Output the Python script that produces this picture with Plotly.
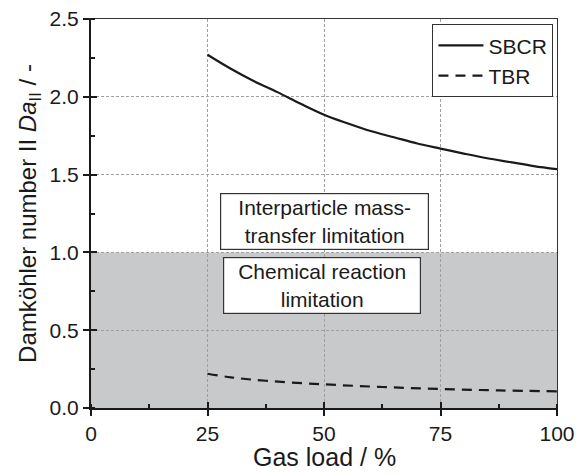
import plotly.graph_objects as go

# Gas load (%) and second Damköhler number for both reactor types
gas_load_sbcr = [25, 30, 35, 40, 45, 50, 55, 60, 65, 70, 75, 80, 85, 90, 95, 100]
da_sbcr = [2.27, 2.18, 2.10, 2.03, 1.955, 1.885, 1.83, 1.78, 1.74, 1.70, 1.667,
           1.635, 1.605, 1.58, 1.555, 1.535]

gas_load_tbr = [25, 30, 37.5, 50, 62.5, 75, 87.5, 100]
da_tbr = [0.22, 0.197, 0.175, 0.152, 0.135, 0.122, 0.113, 0.107]

# Regime boundary: Da_II < 1 -> chemical reaction limitation
da_threshold = 1.0
x_range = [0, 100]
y_range = [0, 2.5]

x_ticks = [0, 25, 50, 75, 100]
y_ticks = [0.0, 0.5, 1.0, 1.5, 2.0, 2.5]
y_tick_text = ["0.0", "0.5", "1.0", "1.5", "2.0", "2.5"]

FONT = "Liberation Sans, Arial, sans-serif"
INK = "#1a1a1a"
GRID = "#a0a0a0"

fig = go.Figure()

fig.add_trace(go.Scatter(
    x=gas_load_sbcr, y=da_sbcr, mode="lines", name="SBCR",
    line=dict(color=INK, width=2.2), line_shape="spline",
))
fig.add_trace(go.Scatter(
    x=gas_load_tbr, y=da_tbr, mode="lines", name="TBR",
    line=dict(color=INK, width=2.2, dash="10px,7px"), line_shape="spline",
))

# shaded reaction-limited regime
fig.add_shape(type="rect", xref="x", yref="y",
              x0=x_range[0], x1=x_range[1], y0=0, y1=da_threshold,
              fillcolor="#c8c9cb", line=dict(width=0), layer="below")

common_axis = dict(
    showline=True, linecolor=INK, linewidth=2,
    ticks="outside", ticklen=6, tickwidth=2, tickcolor=INK,
    showgrid=True, gridcolor=GRID, griddash="3px,2px", gridwidth=1,
    zeroline=False, automargin=False,
    tickfont=dict(family=FONT, size=21, color=INK),
)

fig.update_layout(
    width=576, height=474,
    margin=dict(l=91, r=19, t=19, b=66),
    plot_bgcolor="white", paper_bgcolor="white",
    font=dict(family=FONT, color=INK),
    xaxis=dict(
        range=x_range, tickvals=x_ticks, **common_axis,
        minor=dict(ticks="inside", ticklen=4, tickwidth=1.5, tickcolor=INK,
                   dtick=12.5, showgrid=False),
    ),
    yaxis=dict(
        range=y_range, tickvals=y_ticks, ticktext=y_tick_text, **common_axis,
        minor=dict(ticks="inside", ticklen=4, tickwidth=1.5, tickcolor=INK,
                   dtick=0.25, showgrid=False),
        title=dict(text="Damköhler number II <i>Da</i><sub>II</sub> / -",
                   font=dict(family=FONT, size=24), standoff=6),
    ),
    # thin frame on top and right
    xaxis2=dict(overlaying="x", matches="x", side="top", showline=True,
                linecolor="#333333", linewidth=1.2, showgrid=False,
                showticklabels=False, ticks="", zeroline=False, automargin=False),
    yaxis2=dict(overlaying="y", matches="y", side="right", showline=True,
                linecolor="#333333", linewidth=1.2, showgrid=False,
                showticklabels=False, ticks="", zeroline=False, automargin=False),
    # inner halves of the major ticks
    xaxis3=dict(overlaying="x", matches="x", side="bottom", showline=False,
                tickvals=x_ticks, ticks="inside", ticklen=6, tickwidth=2,
                tickcolor=INK, showticklabels=False, showgrid=False,
                zeroline=False, automargin=False),
    yaxis3=dict(overlaying="y", matches="y", side="left", showline=False,
                tickvals=y_ticks, ticks="inside", ticklen=6, tickwidth=2,
                tickcolor=INK, showticklabels=False, showgrid=False,
                zeroline=False, automargin=False),
    legend=dict(
        x=0.992, y=0.987, xanchor="right", yanchor="top",
        bgcolor="white", bordercolor="#333333", borderwidth=1.2,
        font=dict(family=FONT, size=21), tracegroupgap=0,
        itemwidth=45,
    ),
    showlegend=True,
)

# invisible traces anchoring the frame and tick overlay axes
for xa, ya in [("x2", "y2"), ("x3", "y3")]:
    fig.add_trace(go.Scatter(x=[None], y=[None], xaxis=xa, yaxis=ya,
                             showlegend=False, hoverinfo="skip"))

# x-axis title, placed just under the tick labels
fig.add_annotation(xref="paper", yref="paper", x=0.5, y=-0.125,
                   xanchor="center", yanchor="middle", showarrow=False,
                   text="Gas load / %", font=dict(family=FONT, size=25, color=INK))

label_style = dict(xref="x", yref="y", showarrow=False, bgcolor="white",
                   bordercolor="#333333", borderwidth=1.2, borderpad=2,
                   font=dict(family=FONT, size=21, color=INK))
fig.add_annotation(x=50, y=1.2, text="Interparticle mass-<br>transfer limitation",
                   width=203, **label_style)
fig.add_annotation(x=49.5, y=0.79, text="Chemical reaction<br>limitation",
                   width=192, **label_style)

fig.write_html("out.html")
